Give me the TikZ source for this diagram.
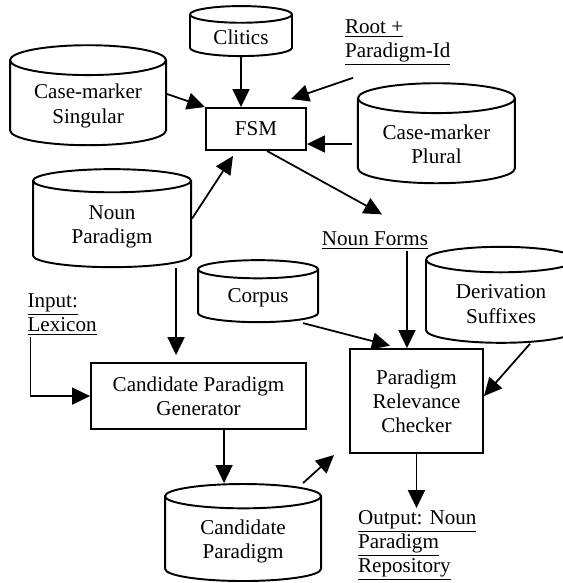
\documentclass[tikz,border=0pt]{standalone}
\usepackage{fontspec}
\setmainfont{Liberation Serif}
\usetikzlibrary{positioning, arrows.meta, shapes.geometric}

\begin{document}
\begin{tikzpicture}[
  font=\fontsize{12}{13.8}\selectfont,
  store/.style={cylinder, shape border rotate=90, aspect=0.25, draw, line width=1.1pt, align=center},
  unit/.style={rectangle, draw, line width=1.1pt, align=center},
  note/.style={inner sep=1pt, align=left},
  arrow/.style={-{Triangle[length=3.6mm, width=3.4mm]}, line width=1pt}
]
\useasboundingbox (0,0) rectangle (11.26,-11.66);

\node[unit, minimum width=2cm, minimum height=0.84cm] (fsm) at (5.12,-2.58) {FSM};
\node[store, minimum width=2.04cm, minimum height=1cm, above=1cm of fsm, xshift=-3mm] (clitics) {Clitics};
\node[store, minimum width=3.12cm, minimum height=2cm, left=7.6mm of fsm, yshift=4.6mm] (casesg) {Case-marker\\Singular};
\node[store, minimum width=3.14cm, minimum height=2cm, right=1cm of fsm, yshift=-3mm] (caspl) {Case-marker\\Plural};
\node[note, right=1cm of clitics, yshift=-1mm] (root) {\underline{Root +}\\\underline{Paradigm-Id}};
\node[store, minimum width=3.16cm, minimum height=1.96cm, below=4.4mm of casesg, xshift=4.8mm] (nounpar) {Noun\\Paradigm};

\node[unit, minimum width=4.3cm, minimum height=1.32cm, below=1.88cm of nounpar, xshift=17.3mm] (cpg) {Candidate Paradigm\\Generator};
\node[store, minimum width=2.4cm, minimum height=1.24cm, above=7.8mm of cpg, xshift=11.9mm] (corpus) {Corpus};
\node[store, minimum width=3cm, minimum height=1.92cm, right=2.12cm of corpus, yshift=-1.2mm] (derivsuf) {Derivation\\Suffixes};
\node[unit, minimum width=2.66cm, minimum height=2.08cm, right=8.4mm of cpg, yshift=-1mm] (prc) {Paradigm\\Relevance\\Checker};
\node[store, minimum width=3.12cm, minimum height=1.94cm, below=1.06cm of cpg, xshift=8.9mm] (candpar) {Candidate\\Paradigm};

\node[note, above=1.94cm of prc, xshift=-8.3mm] (forms) {\underline{Noun Forms}};
\node[note, above=5mm of cpg.north west, xshift=-5.6mm] (input) {\underline{Input:}\\\underline{Lexicon}};
\node[note, below right=1.08cm and 1.4mm of prc.south west] (output) {\underline{Output: Noun}\\\underline{Paradigm}\\\underline{Repository}};

% into the FSM
\draw[arrow] (clitics.south) -- (clitics.south |- fsm.north);
\draw[arrow] ([yshift=2.4mm]casesg.east) -- (fsm.north west);
\draw[arrow] ([shift={(0.2,-0.2)}]root.south west) -- ([shift={(-0.32,0.16)}]fsm.north east);
\draw[arrow] ([xshift=-1mm]caspl.west) -- (caspl.west -| fsm.east);
\draw[arrow] ([yshift=1.6mm]nounpar.east) -- ([xshift=-4.6mm, yshift=-1mm]fsm.south);
\draw[arrow] ([xshift=2.2mm]fsm.south) -- ([shift={(0.14,0.3)}]forms.north);

% generator
\draw[arrow, shorten >=1.4mm] ([xshift=12.8mm]nounpar.south) -- ([xshift=12.8mm]nounpar.south |- cpg.north);
\draw[arrow] ([xshift=1mm]input.south west) |- (cpg.west);
\draw[arrow] ([xshift=5.1mm]cpg.south) -- ([xshift=5.1mm]cpg.south |- candpar.north);

% checker
\draw[arrow] ([xshift=1.2cm]candpar.north) -- ([shift={(-0.3,-0.02)}]prc.south west);
\draw[arrow] ([xshift=9mm]corpus.south) -- ([xshift=-5.3mm, yshift=0.05cm]prc.north);
\draw[arrow] ([xshift=6.4mm]forms.south) -- ([xshift=6.4mm]forms.south |- prc.north);
\draw[arrow] ([xshift=5.8mm]derivsuf.south) -- ([yshift=1mm]prc.east);
\draw[arrow] (prc.south) -- (prc.south |- output.north);

\end{tikzpicture}
\end{document}
